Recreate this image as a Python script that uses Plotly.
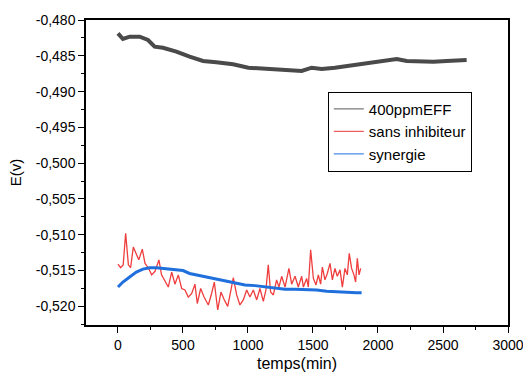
import plotly.graph_objects as go

# 400ppmEFF (black/gray)
t_eff = [0, 38, 90, 167, 231, 282, 346, 449, 551, 654, 756, 885, 1003, 1105, 1208, 1310, 1413,
         1490, 1567, 1669, 1772, 1874, 1964, 2067, 2144, 2221, 2323, 2426, 2528, 2605, 2682]
e_eff = [-0.48186, -0.48265, -0.48233, -0.48233, -0.48279, -0.48373, -0.48387, -0.48442, -0.48513,
         -0.48573, -0.48591, -0.48619, -0.48666, -0.48675, -0.48684, -0.48689, -0.48712,
         -0.48666, -0.48684, -0.48666, -0.48638, -0.48605, -0.48582, -0.48559, -0.48545,
         -0.48573, -0.48582, -0.48582, -0.48573, -0.48568, -0.48559]

# sans inhibiteur (red)
t_sans = [0, 20, 40, 59, 80, 97, 118, 135, 160, 187, 208, 233, 259, 285, 315, 335, 362, 387, 413,
          438, 464, 490, 515, 541, 567, 592, 610, 636, 662, 695, 720, 741, 767, 792, 818, 844,
          869, 887, 913, 938, 964, 990, 1015, 1041, 1067, 1092, 1118, 1138, 1156, 1174, 1195,
          1220, 1238, 1259, 1285, 1315, 1336, 1362, 1387, 1413, 1426, 1451, 1464, 1482, 1503,
          1523, 1541, 1559, 1572, 1592, 1610, 1631, 1649, 1669, 1687, 1708, 1726, 1746, 1764,
          1779, 1797, 1815, 1828, 1841, 1854, 1867]
e_sans = [-0.5141, -0.5146, -0.5142, -0.5098, -0.5142, -0.5146, -0.5117, -0.5124, -0.5135,
          -0.5120, -0.5140, -0.5146, -0.5156, -0.5151, -0.5135, -0.5156, -0.5166, -0.5173,
          -0.5152, -0.5169, -0.5156, -0.5175, -0.5177, -0.5187, -0.5182, -0.5169, -0.5196,
          -0.5175, -0.5187, -0.5198, -0.5182, -0.5166, -0.5205, -0.5180, -0.5191, -0.5200,
          -0.5177, -0.5160, -0.5184, -0.5198, -0.5191, -0.5177, -0.5187, -0.5177, -0.5191,
          -0.5175, -0.5193, -0.5177, -0.5142, -0.5180, -0.5184, -0.5163, -0.5173, -0.5158,
          -0.5173, -0.5147, -0.5169, -0.5158, -0.5173, -0.5158, -0.5173, -0.5161, -0.5173,
          -0.5121, -0.5161, -0.5170, -0.5156, -0.5169, -0.5145, -0.5163, -0.5154, -0.5140,
          -0.5163, -0.5147, -0.5158, -0.5149, -0.5173, -0.5147, -0.5156, -0.5126, -0.5147,
          -0.5156, -0.5166, -0.5133, -0.5156, -0.5147]

# synergie (blue)
t_syn = [0, 38, 90, 141, 192, 244, 295, 346, 397, 449, 500, 551, 603, 654, 700, 746, 823, 900,
         977, 1054, 1131, 1208, 1285, 1362, 1433, 1528, 1605, 1682, 1759, 1836, 1874]
e_syn = [-0.5173, -0.5166, -0.5159, -0.5152, -0.5148, -0.5146, -0.5146, -0.5147, -0.5147,
         -0.5148, -0.5150, -0.5154, -0.5156, -0.5157, -0.5159, -0.5161, -0.5164, -0.5167,
         -0.5170, -0.5171, -0.5173, -0.5175, -0.5176, -0.5176, -0.5176, -0.5177, -0.5179,
         -0.5180, -0.5181, -0.5181, -0.5181]

names = ["400ppmEFF", "sans inhibiteur", "synergie"]
y_tickvals = [-0.520, -0.515, -0.510, -0.505, -0.500, -0.495, -0.490, -0.485, -0.480]
y_ticktext = ["-0,520", "-0,515", "-0,510", "-0,505", "-0,500", "-0,495", "-0,490", "-0,485", "-0,480"]
x_tickvals = [0, 500, 1000, 1500, 2000, 2500, 3000]

FONT = "Liberation Sans"
fig = go.Figure()
fig.add_trace(go.Scatter(x=t_eff, y=e_eff, mode="lines", line=dict(color="#4a4a4a", width=4),
                         showlegend=False))
fig.add_trace(go.Scatter(x=t_sans, y=e_sans, mode="lines", line=dict(color="#ef3e3e", width=1.3),
                         showlegend=False))
fig.add_trace(go.Scatter(x=t_syn, y=e_syn, mode="lines", line=dict(color="#1f6fdc", width=3),
                         showlegend=False))
# legend entries (thin samples, as in the reference)
for nm, col in zip(names, ["#7a7a7a", "#f06060", "#4a8ae8"]):
    fig.add_trace(go.Scatter(x=[None], y=[None], mode="lines", name=nm,
                             line=dict(color=col, width=1.2)))

fig.update_layout(
    width=523, height=372,
    margin=dict(l=86, r=15, t=20, b=47),
    paper_bgcolor="white", plot_bgcolor="white",
    font=dict(family=FONT, size=14, color="black"),
    legend=dict(x=0.573, y=0.765, xanchor="left", yanchor="top",
                bordercolor="black", borderwidth=1, bgcolor="white",
                font=dict(size=15), tracegroupgap=0, itemwidth=30),
    showlegend=True,
)
fig.update_xaxes(
    range=[-246, 3000], tickvals=x_tickvals, ticks="outside", ticklen=6, tickcolor="black",
    ticklabeloverflow="allow", automargin=False,
    minor=dict(dtick=250, tick0=0, ticks="outside", ticklen=3, tickcolor="black"),
    showline=True, linecolor="black", linewidth=1.5, mirror=True, showgrid=False, zeroline=False,
    title=dict(text="temps(min)", font=dict(size=16), standoff=13),
)
fig.update_yaxes(
    range=[-0.5226, -0.480], tickvals=y_tickvals, ticktext=y_ticktext,
    ticks="outside", ticklen=6, tickcolor="black", automargin=False,
    minor=dict(dtick=0.0025, tick0=-0.48, ticks="outside", ticklen=3, tickcolor="black"),
    showline=True, linecolor="black", linewidth=1.5, mirror=True, showgrid=False, zeroline=False,
    title=dict(text="E(v)", font=dict(size=15), standoff=10),
)

fig.write_html("out.html")
